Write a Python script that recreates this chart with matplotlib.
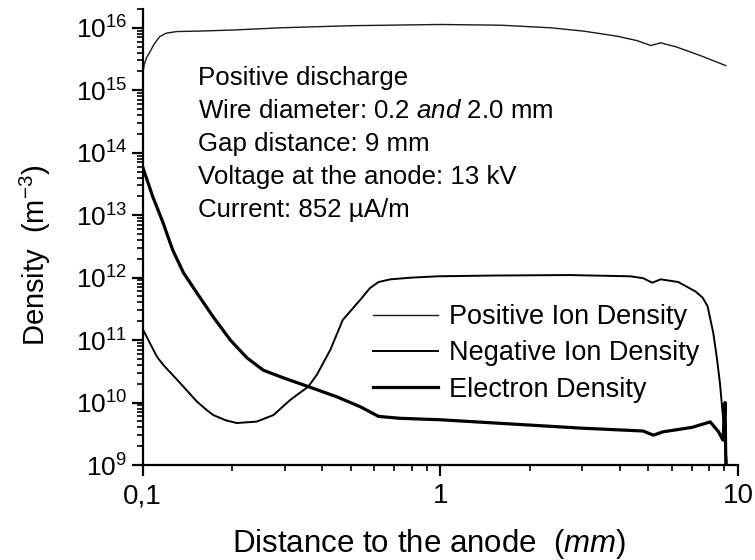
import matplotlib
matplotlib.use("Agg")
import matplotlib.pyplot as plt
from matplotlib.ticker import FixedLocator, FixedFormatter, LogLocator, NullFormatter

plt.rcParams['font.family'] = ['Liberation Sans', 'DejaVu Sans']
plt.rcParams['mathtext.fontset'] = 'custom'
plt.rcParams['mathtext.rm'] = 'Liberation Sans'
plt.rcParams['mathtext.it'] = 'Liberation Sans:italic'
plt.rcParams['mathtext.bf'] = 'Liberation Sans:bold'

# ---- data ----
x_pos = [0.1, 0.101, 0.103, 0.106, 0.109, 0.114, 0.12, 0.13, 0.16, 0.2, 0.29,
         0.5, 1.0, 1.6, 2.35, 3.03, 3.92, 4.57, 5.1, 5.5, 6.24, 7.46, 9.1]
y_pos = [1.7e15, 2.5e15, 3.3e15, 4.2e15, 5.4e15, 7.2e15, 8.2e15, 8.7e15, 8.9e15,
         9.2e15, 1.0e16, 1.08e16, 1.13e16, 1.1e16, 1.0e16, 8.85e15, 7.35e15,
         6.25e15, 5.2e15, 5.75e15, 4.9e15, 3.6e15, 2.48e15]

x_neg = [0.1, 0.1117, 0.1173, 0.133, 0.152, 0.164, 0.1727, 0.19, 0.207, 0.2415,
         0.2748, 0.313, 0.36, 0.385, 0.427, 0.47, 0.54, 0.58, 0.62, 0.68, 0.8,
         0.98, 1.5, 2.7, 4.35, 4.8, 5.15, 5.5, 6.3, 7.2, 7.6, 7.9, 8.26, 8.5,
         8.7, 8.9, 9.18]
y_neg = [1.5e11, 5.4e10, 4.0e10, 2.1e10, 1.04e10, 7.6e9, 6.3e9, 5.2e9, 4.7e9,
         4.95e9, 6.3e9, 1.1e10, 1.8e10, 2.8e10, 7.0e10, 2.1e11, 4.5e11, 6.8e11,
         8.5e11, 9.4e11, 1.0e12, 1.05e12, 1.08e12, 1.1e12, 1.05e12, 9.8e11,
         8.3e11, 9.4e11, 8.5e11, 6.0e11, 4.8e11, 3.5e11, 1.3e11, 5.0e10, 2.0e10,
         6.0e9, 1.0e9]

x_el = [0.1, 0.108, 0.117, 0.126, 0.137, 0.152, 0.172, 0.197, 0.224, 0.254,
        0.296, 0.36, 0.45, 0.54, 0.62, 0.73, 1.0, 2.95, 4.8, 5.2, 5.6, 7.0,
        8.07, 8.6, 8.9, 9.05, 9.1]
y_el = [5.9e13, 2.0e13, 7.6e12, 2.8e12, 1.2e12, 5.7e11, 2.4e11, 1.0e11, 5.2e10,
        3.3e10, 2.5e10, 1.8e10, 1.23e10, 8.5e9, 6.0e9, 5.6e9, 5.3e9, 3.9e9,
        3.5e9, 3.0e9, 3.4e9, 4.0e9, 4.9e9, 3.4e9, 2.5e9, 1.0e10, 1.0e9]

x_tick_vals = [0.1, 1, 10]
x_tick_labels = ['0,1', '1', '10']
y_tick_vals = [1e9, 1e10, 1e11, 1e12, 1e13, 1e14, 1e15, 1e16]
y_tick_labels = ['$10^{9}$', '$10^{10}$', '$10^{11}$', '$10^{12}$',
                 '$10^{13}$', '$10^{14}$', '$10^{15}$', '$10^{16}$']

info_lines = ['Positive discharge', 'Wire diameter: 0.2 $\\mathit{and}$ 2.0 mm',
              'Gap distance: 9 mm', 'Voltage at the anode: 13 kV',
              'Current: 852 \u00b5A/m']

W, H = 755, 560
fig = plt.figure(figsize=(W / 100, H / 100), dpi=100)
L, R, B, T = 142.7, 738, 465, 9
ax = fig.add_axes([L / W, 1 - B / H, (R - L) / W, (B - T) / H])

ax.plot(x_pos, y_pos, color='#1a1a1a', lw=1.0, label='Positive Ion Density')
ax.plot(x_neg, y_neg, color='black', lw=1.4, label='Negative Ion Density')
ax.plot(x_el, y_el, color='black', lw=2.3, label='Electron Density')

ax.set_xscale('log')
ax.set_yscale('log')
ax.set_xlim(0.1, 10)
ax.set_ylim(1e9, 2e16)

ax.xaxis.set_major_locator(FixedLocator(x_tick_vals))
ax.xaxis.set_major_formatter(FixedFormatter(x_tick_labels))
ax.xaxis.set_minor_locator(LogLocator(base=10, subs=range(2, 10), numticks=20))
ax.xaxis.set_minor_formatter(NullFormatter())
ax.yaxis.set_major_locator(FixedLocator(y_tick_vals))
ax.yaxis.set_major_formatter(FixedFormatter(y_tick_labels))
ax.yaxis.set_minor_locator(LogLocator(base=10, subs=range(2, 10), numticks=30))
ax.yaxis.set_minor_formatter(NullFormatter())

for s in ['top', 'right']:
    ax.spines[s].set_visible(False)
for s in ['left', 'bottom']:
    ax.spines[s].set_linewidth(1.6)

ax.tick_params(which='major', direction='out', length=8, width=1.6, pad=4)
ax.tick_params(which='minor', direction='out', length=4.5, width=1.2)
ax.tick_params(axis='y', which='major', labelsize=19, pad=3)
ax.tick_params(axis='x', which='major', labelsize=20, pad=5)

fig.text(429 / W, 1 - 552 / H, 'Distance to the anode  ($\\mathit{mm}$)',
         fontsize=22.5, ha='center', va='baseline')
fig.text(35 / W, 1 - 255 / H, 'Density  (m$^{-3}$)', fontsize=21,
         rotation=90, ha='center', va='center')

for i, line in enumerate(info_lines):
    fig.text(198 / W, 1 - (85 + 33 * i) / H, line, fontsize=18.6,
             ha='left', va='baseline')

leg = ax.legend(loc='upper left', bbox_to_anchor=(373 / W, 1 - 304 / H),
                bbox_transform=fig.transFigure, frameon=False, fontsize=19.5,
                handlelength=2.4, handletextpad=0.4, labelspacing=0.38,
                borderpad=0, borderaxespad=0)

fig.savefig('out.png', dpi=100)
